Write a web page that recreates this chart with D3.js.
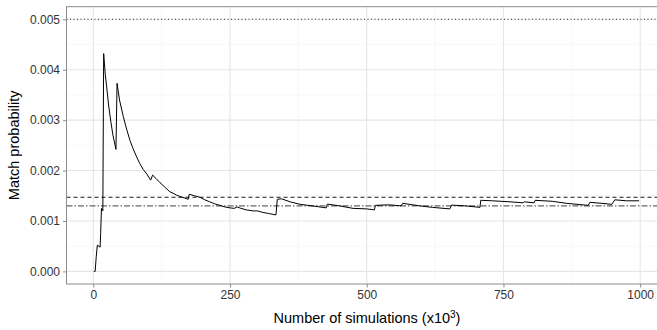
<!DOCTYPE html>
<html>
<head>
<meta charset="utf-8">
<script src="https://cdn.jsdelivr.net/npm/d3@7"></script>
<style>
  body { margin: 0; background: #fff; }
  svg { display: block; font-family: "Liberation Sans", Arial, sans-serif; }
</style>
</head>
<body>
<svg width="657" height="330"></svg>
<script>
// number of simulations (thousands) and running match probability
const simK = [1, 3.4, 5.5, 7.4, 10.4, 12.5, 13.5, 15, 17.5, 19, 22, 24.5, 28, 32, 36, 41.5,
  43.5, 48, 54.9, 61, 67, 73, 79.3, 85, 91.4, 98, 104.9, 108.5, 115, 122, 131, 140, 146,
  152.5, 160, 166, 173.5, 175.5, 185, 195, 204, 213, 222, 231.6, 240, 250, 258, 263, 270,
  280, 292.5, 300, 310, 320, 334, 336.5, 344, 360, 378, 400, 426, 428, 450, 475, 500, 514,
  516, 540, 563, 565.6, 597, 620, 652, 655, 680, 707, 708.5, 730, 762, 786, 788, 806, 808,
  840, 865, 905, 908, 930, 948, 953.7, 975, 998];
const matchProb = [0, 0, 0.0003, 0.00052, 0.0005, 0.00048, 0.00075, 0.00125, 0.0012, 0.00432,
  0.0039, 0.00366, 0.0033, 0.00298, 0.0027, 0.00242,
  0.00373, 0.0034, 0.00307, 0.00282, 0.0026, 0.00243, 0.00227, 0.00214, 0.00202, 0.00193,
  0.00181, 0.00191, 0.00184, 0.00176, 0.00167, 0.00158, 0.00155,
  0.00151, 0.00148, 0.00146, 0.00143, 0.00153, 0.0015, 0.00147, 0.00142, 0.00138, 0.00134,
  0.00131, 0.00128, 0.00126, 0.00125, 0.00128, 0.00125,
  0.00122, 0.0012, 0.0012, 0.00117, 0.00115, 0.00112, 0.00143, 0.00144, 0.00138, 0.00133,
  0.0013, 0.00126, 0.001335, 0.0013, 0.00125, 0.00124, 0.00122,
  0.00131, 0.00132, 0.0013, 0.00135, 0.0013, 0.00127, 0.00124, 0.001315, 0.0013, 0.00127,
  0.00141, 0.0014, 0.00138, 0.00136, 0.00138, 0.00136, 0.00141,
  0.00139, 0.00135, 0.00131, 0.00137, 0.00135, 0.00133, 0.00142, 0.0014, 0.0014];

const xTicks = [0, 250, 500, 750, 1000];
const yTicks = [0, 0.001, 0.002, 0.003, 0.004, 0.005];
// reference lines: dotted, dashed, dot-dash
const refValues = [0.005, 0.00147, 0.0013];

const svg = d3.select("svg");
const pL = 66.5, pR = 667.5, pT = 6.7, pB = 284;

const x = d3.scaleLinear().domain([-48.95, 1049.95]).range([pL, pR]);
const y = d3.scaleLinear().domain([-0.00025, 0.00525]).range([pB, pT]);

const data = simK.map((k, i) => ({ k, p: matchProb[i] }));

// minor grid
const xMinor = [125, 375, 625, 875];
const yMinor = [0.0005, 0.0015, 0.0025, 0.0035, 0.0045];
svg.append("g").selectAll("line").data(xMinor).enter().append("line")
  .attr("x1", d => x(d)).attr("x2", d => x(d)).attr("y1", pT).attr("y2", pB)
  .attr("stroke", "#f3f3f3").attr("stroke-width", 0.6);
svg.append("g").selectAll("line").data(yMinor).enter().append("line")
  .attr("x1", pL).attr("x2", pR).attr("y1", d => y(d)).attr("y2", d => y(d))
  .attr("stroke", "#f3f3f3").attr("stroke-width", 0.6);

// major grid
svg.append("g").selectAll("line").data(xTicks).enter().append("line")
  .attr("x1", d => x(d)).attr("x2", d => x(d)).attr("y1", pT).attr("y2", pB)
  .attr("stroke", "#e6e6e6").attr("stroke-width", 1.1);
svg.append("g").selectAll("line").data(yTicks).enter().append("line")
  .attr("x1", pL).attr("x2", pR).attr("y1", d => y(d)).attr("y2", d => y(d))
  .attr("stroke", "#e6e6e6").attr("stroke-width", 1.1);

// reference lines
const refStyles = [
  { dash: "1,2.5", color: "#000", w: 0.8 },
  { dash: "4,3", color: "#000", w: 0.9 },
  { dash: "6,2,1.5,2", color: "#666", w: 1.4 }
];
svg.append("g").selectAll("line").data(refValues).enter().append("line")
  .attr("x1", pL).attr("x2", pR).attr("y1", d => y(d)).attr("y2", d => y(d))
  .attr("stroke", (d, i) => refStyles[i].color)
  .attr("stroke-width", (d, i) => refStyles[i].w)
  .attr("stroke-dasharray", (d, i) => refStyles[i].dash);

// series line
svg.append("path")
  .datum(data)
  .attr("fill", "none")
  .attr("stroke", "#000")
  .attr("stroke-width", 1)
  .attr("d", d3.line().x(d => x(d.k)).y(d => y(d.p)));

// panel border
svg.append("rect")
  .attr("x", pL).attr("y", pT).attr("width", pR - pL).attr("height", pB - pT)
  .attr("fill", "none").attr("stroke", "#8c8c8c").attr("stroke-width", 1);

// axes
const xAxis = svg.append("g")
  .attr("transform", `translate(0,${pB})`)
  .call(d3.axisBottom(x).tickValues(xTicks).tickSize(3.5).tickPadding(3).tickFormat(d3.format("d")));
const yAxis = svg.append("g")
  .attr("transform", `translate(${pL},0)`)
  .call(d3.axisLeft(y).tickValues(yTicks).tickSize(3.5).tickPadding(3).tickFormat(d3.format(".3f")));

[xAxis, yAxis].forEach(a => {
  a.select(".domain").remove();
  a.selectAll(".tick line").attr("stroke", "#8c8c8c");
  a.selectAll(".tick text").attr("fill", "#333").style("font-size", "12px")
    .style("font-family", "'Liberation Sans', Arial, sans-serif");
});

// axis titles
const xTitle = svg.append("text")
  .attr("x", (pL + pR) / 2).attr("y", 323)
  .attr("text-anchor", "middle")
  .style("font-size", "14.5px")
  .attr("fill", "#000");
xTitle.append("tspan").text("Number of simulations (x10");
xTitle.append("tspan").attr("dy", -5).style("font-size", "10px").text("3");
xTitle.append("tspan").attr("dy", 5).text(")");

svg.append("text")
  .attr("transform", `translate(19,${(pT + pB) / 2}) rotate(-90)`)
  .attr("text-anchor", "middle")
  .style("font-size", "14.5px")
  .attr("fill", "#000")
  .text("Match probability");
</script>
</body>
</html>
